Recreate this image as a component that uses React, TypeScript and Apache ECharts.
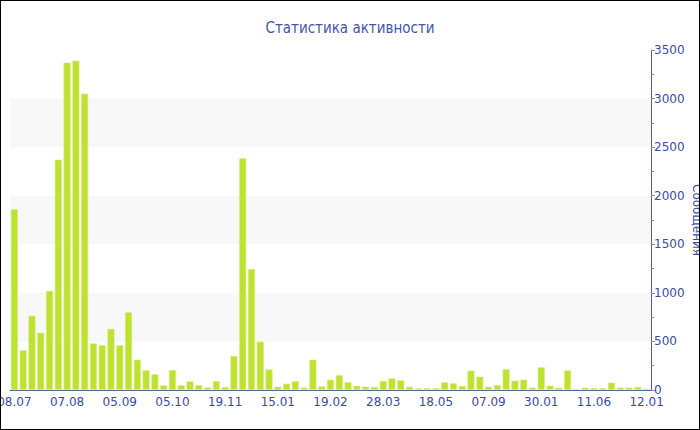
import React, { useEffect, useRef } from "react";
import * as echarts from "echarts";

// Period start dates (dd.mm), one bar per period
const categories: string[] = [
  "08.07", "13.07", "18.07", "23.07", "28.07", "02.08",
  "07.08", "12.08", "17.08", "22.08", "27.08", "31.08",
  "05.09", "10.09", "15.09", "20.09", "25.09", "30.09",
  "05.10", "12.10", "20.10", "27.10", "04.11", "12.11",
  "19.11", "29.11", "08.12", "18.12", "27.12", "06.01",
  "15.01", "21.01", "27.01", "02.02", "08.02", "13.02",
  "19.02", "25.02", "03.03", "09.03", "16.03", "22.03",
  "28.03", "06.04", "14.04", "23.04", "01.05", "10.05",
  "18.05", "06.06", "24.06", "13.07", "01.08", "20.08",
  "07.09", "01.10", "25.10", "19.11", "13.12", "06.01",
  "30.01", "21.02", "15.03", "07.04", "29.04", "20.05",
  "11.06", "17.07", "22.08", "27.09", "02.11", "08.12",
  "12.01",
];

// Messages per period
const messages: number[] = [
  1860, 410, 765, 590, 1020, 2370,
  3370, 3390, 3050, 480, 460, 630,
  460, 800, 312, 203, 161, 48,
  206, 48, 89, 51, 27, 89,
  31, 350, 2385, 1246, 497, 213,
  34, 65, 89, 24, 312, 38,
  106, 152, 79, 44, 34, 31,
  93, 120, 100, 33, 17, 20,
  20, 79, 69, 41, 199, 137,
  34, 51, 216, 96, 106, 24,
  233, 44, 24, 203, 10, 24,
  20, 20, 75, 24, 24, 31,
  12,
];

const yTicks = { min: 0, max: 3500, interval: 500 };
const yAxisTitle = "Сообщения";

const TEXT_BLUE = "#3b4c9b";
const AXIS_BLUE = "#4a5fa6";

export default function App() {
  const ref = useRef<HTMLDivElement>(null);

  useEffect(() => {
    if (!ref.current) return;
    const chart = echarts.init(ref.current, undefined, { renderer: "svg" });
    chart.setOption({
      animation: false,
      backgroundColor: "#ffffff",
      textStyle: { fontFamily: "DejaVu Sans" },
      title: {
        text: "Статистика активности",
        left: "center",
        top: 15,
        textStyle: {
          color: "#4357a4",
          fontSize: 15,
          fontWeight: "normal",
          fontFamily: "DejaVu Sans Condensed",
        },
      },
      grid: {
        left: 10,
        right: 49,
        top: 50,
        bottom: 40,
        containLabel: false,
        outerBoundsMode: "none",
      },
      // Vertical axis title along the right edge, reading top to bottom
      graphic: [
        {
          type: "text",
          x: 697,
          y: 220,
          rotation: -Math.PI / 2,
          style: {
            text: yAxisTitle,
            fill: TEXT_BLUE,
            fontSize: 12,
            fontFamily: "DejaVu Sans",
            align: "center",
            verticalAlign: "middle",
          },
        },
      ],
      xAxis: {
        type: "category",
        data: categories,
        boundaryGap: true,
        axisLine: { lineStyle: { color: AXIS_BLUE, width: 1 } },
        axisTick: {
          alignWithLabel: true,
          interval: 5,
          length: 4,
          lineStyle: { color: "#8a8a8a" },
        },
        axisLabel: {
          interval: 5,
          color: TEXT_BLUE,
          fontSize: 12,
          margin: 6,
          fontFamily: "DejaVu Sans",
        },
        splitLine: { show: false },
      },
      yAxis: {
        type: "value",
        position: "right",
        min: yTicks.min,
        max: yTicks.max,
        interval: yTicks.interval,
        axisLine: { show: true, lineStyle: { color: AXIS_BLUE, width: 1 } },
        axisTick: { show: true, length: 4, lineStyle: { color: "#8a8a8a" } },
        minorTick: { show: true, splitNumber: 2, length: 3, lineStyle: { color: "#8a8a8a" } },
        axisLabel: {
          color: TEXT_BLUE,
          fontSize: 12,
          margin: 3,
          fontFamily: "DejaVu Sans",
          formatter: (v: number) => String(v),
        },
        splitLine: { show: false },
        splitArea: {
          show: true,
          areaStyle: { color: ["rgba(255,255,255,0)", "#f8f8f8"] },
        },
      },
      series: [
        {
          type: "bar",
          data: messages,
          barCategoryGap: "20%",
          itemStyle: {
            color: "#bde232",
            borderColor: "#d6ee7c",
            borderWidth: 0.6,
          },
        },
      ],
    });
    return () => chart.dispose();
  }, []);

  return (
    <div
      style={{
        position: "fixed",
        left: 0,
        top: 0,
        width: 700,
        height: 430,
        background: "#fff",
      }}
    >
      <div ref={ref} style={{ position: "absolute", left: 0, top: 0, width: 700, height: 430 }} />
      <div
        style={{
          position: "absolute",
          left: 0,
          top: 0,
          width: 700,
          height: 430,
          boxSizing: "border-box",
          border: "1px solid #000",
          pointerEvents: "none",
        }}
      />
    </div>
  );
}
